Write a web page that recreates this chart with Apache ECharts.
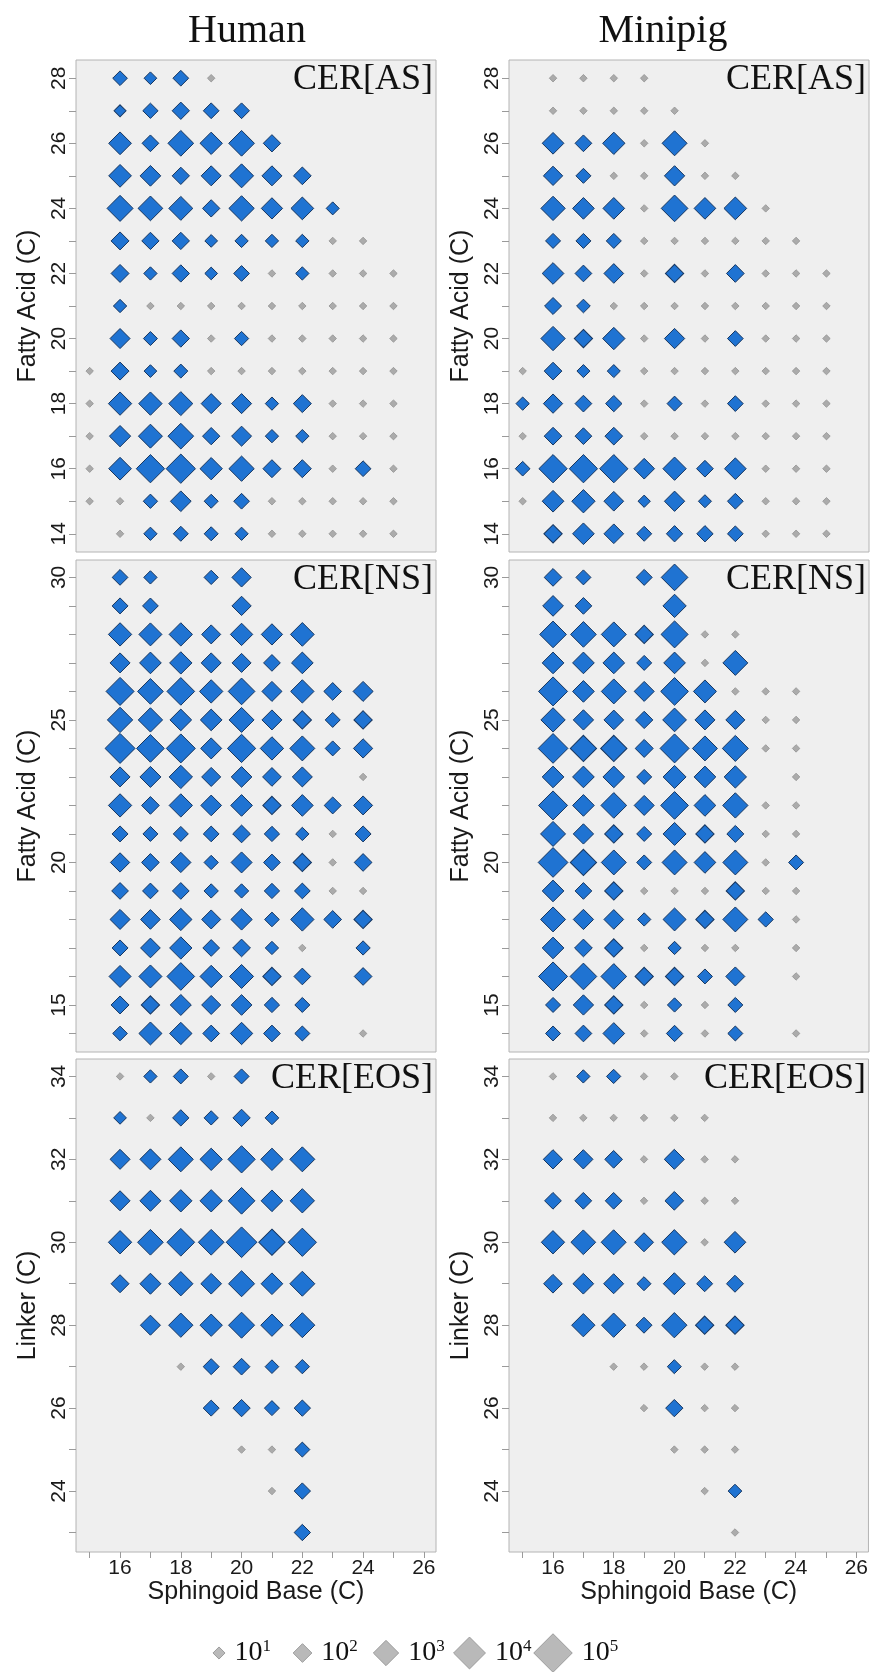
<!DOCTYPE html>
<html><head><meta charset="utf-8">
<script src="https://cdn.jsdelivr.net/npm/echarts@6/dist/echarts.min.js"></script>
<style>html,body{margin:0;padding:0;background:#fff}#c{width:871px;height:1672px}</style>
</head><body><div id="c"></div>
<script>
// ---------- DATA: [sphingoid base C, chain C, log10 abundance, significant(1)/trace(0)] ----------
const humanAS = [
[16,28,1.39,1],[17,28,1.09,1],[18,28,1.55,1],[19,28,0.3,0],
[16,27,0.98,1],[17,27,1.48,1],[18,27,1.79,1],[19,27,1.55,1],[20,27,1.55,1],
[16,26,2.61,1],[17,26,1.70,1],[18,26,3.06,1],[19,26,2.55,1],[20,26,3.06,1],[21,26,1.79,1],
[16,25,2.61,1],[17,25,2.30,1],[18,25,1.79,1],[19,25,2.20,1],[20,25,2.80,1],[21,25,2.20,1],[22,25,1.85,1],
[16,24,3.11,1],[17,24,2.91,1],[18,24,2.80,1],[19,24,1.79,1],[20,24,3.00,1],[21,24,2.39,1],[22,24,2.61,1],[23,24,1.14,1],
[16,23,1.89,1],[17,23,1.79,1],[18,23,1.79,1],[19,23,1.09,1],[20,23,1.18,1],[21,23,1.18,1],[22,23,1.18,1],[23,23,0.3,0],[24,23,0.3,0],
[16,22,1.89,1],[17,22,1.18,1],[18,22,1.79,1],[19,22,1.09,1],[20,22,1.55,1],[21,22,0.3,0],[22,22,1.18,1],[23,22,0.3,0],[24,22,0.3,0],[25,22,0.3,0],
[16,21,1.18,1],[17,21,0.3,0],[18,21,0.3,0],[19,21,0.3,0],[20,21,0.3,0],[21,21,0.3,0],[22,21,0.3,0],[23,21,0.3,0],[24,21,0.3,0],[25,21,0.3,0],
[16,20,2.20,1],[17,20,1.29,1],[18,20,1.79,1],[19,20,0.3,0],[20,20,1.33,1],[21,20,0.3,0],[22,20,0.3,0],[23,20,0.3,0],[24,20,0.3,0],[25,20,0.3,0],
[15,19,0.3,0],[16,19,1.89,1],[17,19,1.09,1],[18,19,1.29,1],[19,19,0.3,0],[20,19,0.3,0],[21,19,0.3,0],[22,19,0.3,0],[23,19,0.3,0],[24,19,0.3,0],[25,19,0.3,0],
[15,18,0.3,0],[16,18,2.70,1],[17,18,2.70,1],[18,18,2.80,1],[19,18,2.20,1],[20,18,2.20,1],[21,18,1.18,1],[22,18,1.89,1],[23,18,0.3,0],[24,18,0.3,0],[25,18,0.3,0],
[15,17,0.3,0],[16,17,2.39,1],[17,17,2.80,1],[18,17,3.06,1],[19,17,1.79,1],[20,17,2.20,1],[21,17,1.18,1],[22,17,1.18,1],[23,17,0.3,0],[24,17,0.3,0],[25,17,0.3,0],
[15,16,0.3,0],[16,16,2.61,1],[17,16,3.45,1],[18,16,3.61,1],[19,16,2.55,1],[20,16,3.00,1],[21,16,1.89,1],[22,16,1.89,1],[23,16,0.3,0],[24,16,1.55,1],[25,16,0.3,0],
[15,15,0.3,0],[16,15,0.3,0],[17,15,1.33,1],[18,15,2.30,1],[19,15,1.29,1],[20,15,1.55,1],[21,15,0.3,0],[22,15,0.3,0],[23,15,0.3,0],[24,15,0.3,0],[25,15,0.3,0],
[16,14,0.3,0],[17,14,1.18,1],[18,14,1.44,1],[19,14,1.29,1],[20,14,1.18,1],[21,14,0.3,0],[22,14,0.3,0],[23,14,0.3,0],[24,14,0.3,0],[25,14,0.3,0]
];
const minipigAS = [
[16,28,0.3,0],[17,28,0.3,0],[18,28,0.3,0],[19,28,0.3,0],
[16,27,0.3,0],[17,27,0.3,0],[18,27,0.3,0],[19,27,0.3,0],[20,27,0.3,0],
[16,26,2.45,1],[17,26,1.70,1],[18,26,2.55,1],[19,26,0.3,0],[20,26,2.95,1],[21,26,0.3,0],
[16,25,2.09,1],[17,25,1.44,1],[18,25,0.3,0],[19,25,0.3,0],[20,25,2.24,1],[21,25,0.3,0],[22,25,0.3,0],
[16,24,2.85,1],[17,24,2.45,1],[18,24,2.45,1],[19,24,0.3,0],[20,24,3.21,1],[21,24,2.45,1],[22,24,2.61,1],[23,24,0.3,0],
[16,23,1.44,1],[17,23,1.44,1],[18,23,1.44,1],[19,23,0.3,0],[20,23,0.3,0],[21,23,0.3,0],[22,23,0.3,0],[23,23,0.3,0],[24,23,0.3,0],
[16,22,2.45,1],[17,22,1.70,1],[18,22,2.15,1],[19,22,0.3,0],[20,22,1.94,1],[21,22,0.3,0],[22,22,1.85,1],[23,22,0.3,0],[24,22,0.3,0],[25,22,0.3,0],
[16,21,1.74,1],[17,21,1.24,1],[18,21,0.3,0],[19,21,0.3,0],[20,21,0.3,0],[21,21,0.3,0],[22,21,0.3,0],[23,21,0.3,0],[24,21,0.3,0],[25,21,0.3,0],
[16,20,2.85,1],[17,20,1.94,1],[18,20,2.55,1],[19,20,0.3,0],[20,20,2.24,1],[21,20,0.3,0],[22,20,1.55,1],[23,20,0.3,0],[24,20,0.3,0],[25,20,0.3,0],
[15,19,0.3,0],[16,19,1.85,1],[17,19,1.14,1],[18,19,1.14,1],[19,19,0.3,0],[20,19,0.3,0],[21,19,0.3,0],[22,19,0.3,0],[23,19,0.3,0],[24,19,0.3,0],[25,19,0.3,0],
[15,18,1.18,1],[16,18,2.09,1],[17,18,1.70,1],[18,18,1.64,1],[19,18,0.3,0],[20,18,1.44,1],[21,18,0.3,0],[22,18,1.55,1],[23,18,0.3,0],[24,18,0.3,0],[25,18,0.3,0],
[15,17,0.3,0],[16,17,1.85,1],[17,17,1.70,1],[18,17,1.85,1],[19,17,0.3,0],[20,17,0.3,0],[21,17,0.3,0],[22,17,0.3,0],[23,17,0.3,0],[24,17,0.3,0],[25,17,0.3,0],
[15,16,1.39,1],[16,16,3.45,1],[17,16,3.45,1],[18,16,3.45,1],[19,16,2.30,1],[20,16,2.70,1],[21,16,1.70,1],[22,16,2.45,1],[23,16,0.3,0],[24,16,0.3,0],[25,16,0.3,0],
[15,15,0.3,0],[16,15,2.45,1],[17,15,2.70,1],[18,15,2.15,1],[19,15,1.03,1],[20,15,2.24,1],[21,15,1.14,1],[22,15,1.55,1],[23,15,0.3,0],[24,15,0.3,0],[25,15,0.3,0],
[16,14,1.94,1],[17,14,2.45,1],[18,14,2.15,1],[19,14,1.44,1],[20,14,1.64,1],[21,14,1.64,1],[22,14,1.55,1],[23,14,0.3,0],[24,14,0.3,0],[25,14,0.3,0]
];
const humanNS = [
[16,30,1.55,1],[17,30,1.18,1],[19,30,1.33,1],[20,30,2.09,1],
[16,29,1.59,1],[17,29,1.55,1],[20,29,2.09,1],
[16,28,2.70,1],[17,28,2.65,1],[18,28,2.70,1],[19,28,2.05,1],[20,28,2.55,1],[21,28,2.39,1],[22,28,2.76,1],
[16,27,2.20,1],[17,27,2.45,1],[18,27,2.55,1],[19,27,2.20,1],[20,27,2.05,1],[21,27,1.70,1],[22,27,2.45,1],
[16,26,3.41,1],[17,26,3.06,1],[18,26,3.36,1],[19,26,2.70,1],[20,26,3.21,1],[21,26,2.20,1],[22,26,2.70,1],[23,26,1.85,1],[24,26,2.20,1],
[16,25,3.00,1],[17,25,2.85,1],[18,25,2.45,1],[19,25,2.45,1],[20,25,2.95,1],[21,25,2.20,1],[22,25,1.94,1],[23,25,1.44,1],[24,25,1.94,1],
[16,24,3.71,1],[17,24,3.36,1],[18,24,3.56,1],[19,24,2.35,1],[20,24,3.45,1],[21,24,2.70,1],[22,24,2.95,1],[23,24,1.44,1],[24,24,2.09,1],
[16,23,2.20,1],[17,23,2.35,1],[18,23,2.70,1],[19,23,2.05,1],[20,23,2.30,1],[21,23,2.00,1],[22,23,2.20,1],[24,23,0.3,0],
[16,22,2.70,1],[17,22,1.85,1],[18,22,2.70,1],[19,22,2.30,1],[20,22,2.45,1],[21,22,1.94,1],[22,22,2.45,1],[23,22,1.74,1],[24,22,2.05,1],
[16,21,1.59,1],[17,21,1.44,1],[18,21,1.44,1],[19,21,1.55,1],[20,21,1.85,1],[21,21,1.48,1],[22,21,1.18,1],[23,21,0.3,0],[24,21,1.59,1],
[16,20,2.09,1],[17,20,1.85,1],[18,20,2.24,1],[19,20,1.33,1],[20,20,2.35,1],[21,20,1.70,1],[22,20,1.94,1],[23,20,0.3,0],[24,20,1.85,1],
[16,19,1.70,1],[17,19,1.55,1],[18,19,1.70,1],[19,19,1.33,1],[20,19,1.33,1],[21,19,1.48,1],[22,19,1.55,1],[23,19,0.3,0],[24,19,0.3,0],
[16,18,2.20,1],[17,18,2.15,1],[18,18,2.55,1],[19,18,2.05,1],[20,18,2.39,1],[21,18,1.39,1],[22,18,2.70,1],[23,18,1.85,1],[24,18,1.94,1],
[16,17,1.59,1],[17,17,2.15,1],[18,17,2.55,1],[19,17,1.70,1],[20,17,1.85,1],[21,17,1.18,1],[22,17,0.3,0],[24,17,1.33,1],
[16,16,2.50,1],[17,16,2.65,1],[18,16,3.36,1],[19,16,2.55,1],[20,16,2.80,1],[21,16,1.94,1],[22,16,1.70,1],[24,16,1.85,1],
[16,15,1.89,1],[17,15,1.94,1],[18,15,2.35,1],[19,15,2.05,1],[20,15,2.30,1],[21,15,1.48,1],[22,15,1.44,1],
[16,14,1.39,1],[17,14,2.65,1],[18,14,2.55,1],[19,14,1.70,1],[20,14,2.55,1],[21,14,1.70,1],[22,14,1.44,1],[24,14,0.3,0]
];
const minipigNS = [
[16,30,1.85,1],[17,30,1.44,1],[19,30,1.59,1],[20,30,3.21,1],
[16,29,2.30,1],[17,29,1.70,1],[20,29,2.70,1],
[16,28,3.21,1],[17,28,3.06,1],[18,28,2.95,1],[19,28,1.94,1],[20,28,3.26,1],[21,28,0.3,0],[22,28,0.3,0],
[16,27,2.45,1],[17,27,2.45,1],[18,27,2.45,1],[19,27,1.44,1],[20,27,2.45,1],[21,27,0.3,0],[22,27,2.95,1],
[16,26,3.56,1],[17,26,2.45,1],[18,26,2.95,1],[19,26,2.20,1],[20,26,3.36,1],[21,26,2.65,1],[22,26,0.3,0],[23,26,0.3,0],[24,26,0.3,0],
[16,25,2.85,1],[17,25,2.24,1],[18,25,2.15,1],[19,25,1.79,1],[20,25,2.76,1],[21,25,2.20,1],[22,25,2.05,1],[23,25,0.3,0],[24,25,0.3,0],
[16,24,3.67,1],[17,24,3.15,1],[18,24,3.15,1],[19,24,1.89,1],[20,24,3.56,1],[21,24,2.95,1],[22,24,3.11,1],[23,24,0.3,0],[24,24,0.3,0],
[16,23,2.45,1],[17,23,2.45,1],[18,23,2.45,1],[19,23,1.44,1],[20,23,2.65,1],[21,23,2.45,1],[22,23,2.55,1],[24,23,0.3,0],
[16,22,3.56,1],[17,22,2.45,1],[18,22,3.06,1],[19,22,2.20,1],[20,22,3.36,1],[21,22,2.45,1],[22,22,3.00,1],[23,22,0.3,0],[24,22,0.3,0],
[16,21,2.95,1],[17,21,2.24,1],[18,21,1.94,1],[19,21,1.44,1],[20,21,2.65,1],[21,21,1.94,1],[22,21,1.74,1],[23,21,0.3,0],[24,21,0.3,0],
[16,20,3.67,1],[17,20,3.15,1],[18,20,2.95,1],[19,20,1.44,1],[20,20,2.95,1],[21,20,2.45,1],[22,20,2.95,1],[23,20,0.3,0],[24,20,1.44,1],
[16,19,2.45,1],[17,19,1.70,1],[18,19,1.94,1],[19,19,0.3,0],[20,19,0.3,0],[21,19,0.3,0],[22,19,1.94,1],[23,19,0.3,0],[24,19,0.3,0],
[16,18,2.95,1],[17,18,2.24,1],[18,18,2.15,1],[19,18,1.18,1],[20,18,2.65,1],[21,18,1.94,1],[22,18,2.95,1],[23,18,1.48,1],[24,18,0.3,0],
[16,17,2.45,1],[17,17,1.85,1],[18,17,1.94,1],[19,17,0.3,0],[20,17,1.18,1],[21,17,0.3,0],[22,17,0.3,0],[24,17,0.3,0],
[16,16,3.56,1],[17,16,3.21,1],[18,16,3.06,1],[19,16,1.94,1],[20,16,1.94,1],[21,16,1.44,1],[22,16,2.05,1],[24,16,0.3,0],
[16,15,1.44,1],[17,15,2.24,1],[18,15,1.94,1],[19,15,0.3,0],[20,15,1.33,1],[21,15,0.3,0],[22,15,1.44,1],
[16,14,1.44,1],[17,14,1.70,1],[18,14,2.45,1],[19,14,0.3,0],[20,14,1.64,1],[21,14,0.3,0],[22,14,1.44,1],[24,14,0.3,0]
];
const humanEOS = [
[16,34,0.3,0],[17,34,1.18,1],[18,34,1.44,1],[19,34,0.3,0],[20,34,1.44,1],
[16,33,1.09,1],[17,33,0.3,0],[18,33,1.64,1],[19,33,1.33,1],[20,33,1.79,1],[21,33,1.24,1],
[16,32,2.20,1],[17,32,2.35,1],[18,32,2.95,1],[19,32,2.55,1],[20,32,3.30,1],[21,32,2.55,1],[22,32,2.95,1],
[16,31,2.20,1],[17,31,2.35,1],[18,31,2.55,1],[19,31,2.55,1],[20,31,3.21,1],[21,31,2.45,1],[22,31,2.85,1],
[16,30,2.70,1],[17,30,3.06,1],[18,30,3.36,1],[19,30,3.06,1],[20,30,3.82,1],[21,30,3.15,1],[22,30,3.45,1],
[16,29,1.89,1],[17,29,2.35,1],[18,29,2.85,1],[19,29,2.30,1],[20,29,3.11,1],[21,29,2.45,1],[22,29,2.95,1],
[17,28,2.20,1],[18,28,2.85,1],[19,28,2.55,1],[20,28,3.11,1],[21,28,2.55,1],[22,28,2.95,1],
[18,27,0.3,0],[19,27,1.59,1],[20,27,1.70,1],[21,27,1.24,1],[22,27,1.33,1],
[19,26,1.59,1],[20,26,1.79,1],[21,26,1.44,1],[22,26,1.64,1],
[20,25,0.3,0],[21,25,0.3,0],[22,25,1.44,1],
[21,24,0.3,0],[22,24,1.64,1],
[22,23,1.64,1]
];
const minipigEOS = [
[16,34,0.3,0],[17,34,1.18,1],[18,34,1.33,1],[19,34,0.3,0],[20,34,0.3,0],
[16,33,0.3,0],[17,33,0.3,0],[18,33,0.3,0],[19,33,0.3,0],[20,33,0.3,0],[21,33,0.3,0],
[16,32,2.09,1],[17,32,2.09,1],[18,32,1.85,1],[19,32,0.3,0],[20,32,2.20,1],[21,32,0.3,0],[22,32,0.3,0],
[16,31,1.70,1],[17,31,1.70,1],[18,31,1.70,1],[19,31,0.3,0],[20,31,2.00,1],[21,31,0.3,0],[22,31,0.3,0],
[16,30,2.70,1],[17,30,2.91,1],[18,30,2.95,1],[19,30,2.05,1],[20,30,3.00,1],[21,30,0.3,0],[22,30,2.45,1],
[16,29,2.00,1],[17,29,2.30,1],[18,29,2.20,1],[19,29,1.29,1],[20,29,2.50,1],[21,29,1.59,1],[22,29,1.74,1],
[17,28,2.70,1],[18,28,2.85,1],[19,28,1.59,1],[20,28,3.00,1],[21,28,1.94,1],[22,28,1.94,1],
[18,27,0.3,0],[19,27,0.3,0],[20,27,1.29,1],[21,27,0.3,0],[22,27,0.3,0],
[19,26,0.3,0],[20,26,1.79,1],[21,26,0.3,0],[22,26,0.3,0],
[20,25,0.3,0],[21,25,0.3,0],[22,25,0.3,0],
[21,24,0.3,0],[22,24,1.24,1],
[22,23,0.3,0]
];
const columnTitles = ['Human', 'Minipig'];
const classTags = ['CER[AS]', 'CER[NS]', 'CER[EOS]'];
const yNames = ['Fatty Acid (C)', 'Fatty Acid (C)', 'Linker (C)'];
const xName = 'Sphingoid Base (C)';
const xTicks = [15,16,17,18,19,20,21,22,23,24,25,26];
const xLabels = [16,18,20,22,24,26];
const yTicksAS = [14,15,16,17,18,19,20,21,22,23,24,25,26,27,28];
const yLabelsAS = [14,16,18,20,22,24,26,28];
const yTicksNS = [14,15,16,17,18,19,20,21,22,23,24,25,26,27,28,29,30];
const yLabelsNS = [15,20,25,30];
const yTicksEOS = [23,24,25,26,27,28,29,30,31,32,33,34];
const yLabelsEOS = [24,26,28,30,32,34];
const legendExps = [1,2,3,4,5];

// ---------- LAYOUT ----------
const panels = [humanAS, minipigAS, humanNS, minipigNS, humanEOS, minipigEOS];
const rowAxes = [
  {min:13.44, max:28.56, ticks:yTicksAS, labels:yLabelsAS},
  {min:13.35, max:30.61, ticks:yTicksNS, labels:yLabelsNS},
  {min:22.53, max:34.42, ticks:yTicksEOS, labels:yLabelsEOS}
];
const colLeft = [76, 509], rowTop = [60, 560, 1059], rowH = [492, 492, 493], W = 360;
const sizeOf = v => 5.5 + 6.6 * v;
const SANS = '"Liberation Sans", Arial, sans-serif';
const SERIF = '"Liberation Serif", "Times New Roman", serif';

const grid = [], xAxis = [], yAxis = [], series = [], graphic = [];
panels.forEach((data, i) => {
  const r = Math.floor(i / 2), c = i % 2;
  const ax = rowAxes[r];
  grid.push({left: colLeft[c], top: rowTop[r], width: W, height: rowH[r], show: true,
    backgroundColor: '#efefef', borderColor: '#b4b4b4', borderWidth: 1});
  const bottom = r === 2;
  xAxis.push({type: 'value', gridIndex: i, min: 14.55, max: 26.4,
    axisLine: {show: false}, splitLine: {show: false},
    axisTick: {show: bottom, customValues: xTicks, length: 6, lineStyle: {color: '#9a9a9a'}},
    axisLabel: {show: bottom, customValues: xLabels, fontSize: 21, fontFamily: SANS, color: '#1a1a1a', margin: 6},
    name: bottom ? xName : '', nameLocation: 'middle', nameGap: 28,
    nameTextStyle: {fontSize: 25, fontFamily: SANS, color: '#1a1a1a'}});
  yAxis.push({type: 'value', gridIndex: i, min: ax.min, max: ax.max,
    axisLine: {show: false}, splitLine: {show: false},
    axisTick: {show: true, customValues: ax.ticks, length: 7, lineStyle: {color: '#9a9a9a'}},
    axisLabel: {customValues: ax.labels, rotate: 90, fontSize: 21, fontFamily: SANS, color: '#1a1a1a', margin: 6},
    name: yNames[r], nameLocation: 'middle', nameGap: 35,
    nameTextStyle: {fontSize: 25, fontFamily: SANS, color: '#1a1a1a'}});
  series.push({type: 'scatter', xAxisIndex: i, yAxisIndex: i, symbol: 'diamond',
    data: data.filter(d => d[3] === 0), symbolSize: d => sizeOf(d[2]),
    itemStyle: {color: '#ababab', borderColor: '#929292', borderWidth: 0.8, opacity: 1}, silent: true});
  series.push({type: 'scatter', xAxisIndex: i, yAxisIndex: i, symbol: 'diamond',
    data: data.filter(d => d[3] === 1), symbolSize: d => sizeOf(d[2]),
    itemStyle: {color: '#1f73d2', borderColor: '#17365f', borderWidth: 1, opacity: 1}, silent: true});
  graphic.push({type: 'text', x: colLeft[c] + W - 3, y: rowTop[r] + 20,
    style: {text: classTags[r], font: '36px ' + SERIF, fill: '#111', align: 'right', verticalAlign: 'middle'}});
});
[247, 663].forEach((x, c) => graphic.push({type: 'text', x: x, y: 31,
  style: {text: columnTitles[c], font: '40px ' + SERIF, fill: '#111', align: 'center', verticalAlign: 'middle'}}));

// legend as its own small scatter
grid.push({left: 219, top: 1638, width: 334, height: 30, show: false});
xAxis.push({type: 'value', gridIndex: 6, min: 1, max: 5, show: false});
yAxis.push({type: 'value', gridIndex: 6, min: 0, max: 2, show: false});
series.push({type: 'scatter', xAxisIndex: 6, yAxisIndex: 6, symbol: 'diamond', silent: true,
  data: legendExps.map((e, k) => [k + 1, 1, e]), symbolSize: d => sizeOf(d[2]),
  itemStyle: {color: '#b9b9b9', borderColor: '#9c9c9c', borderWidth: 1, opacity: 1},
  label: {show: true, position: 'right', distance: 9,
    formatter: p => '{a|10}{b|' + p.value[2] + '}',
    rich: {a: {fontFamily: SERIF, fontSize: 28, color: '#111', lineHeight: 30},
           b: {fontFamily: SERIF, fontSize: 17, color: '#111', verticalAlign: 'top', lineHeight: 30}}}});

const chart = echarts.init(document.getElementById('c'), null, {renderer: 'canvas'});
chart.setOption({animation: false, grid, xAxis, yAxis, series, graphic});
</script></body></html>
